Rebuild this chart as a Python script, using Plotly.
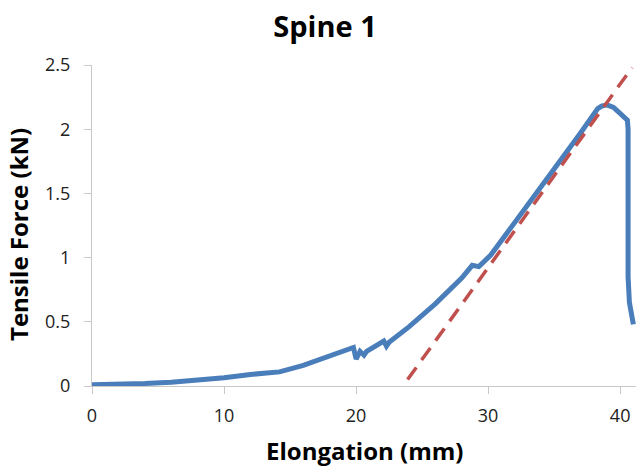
import plotly.graph_objects as go

# Measured curve (Elongation mm, Tensile Force kN)
elongation = [0, 2, 4, 6, 8, 10, 12, 13.9, 14.2, 16, 18, 19.8, 20.0, 20.3, 20.6, 20.8,
              22.1, 22.3, 22.5, 24, 26, 28, 28.8, 29.3, 30.2, 31, 33, 35, 37, 38.3,
              38.6, 39.0, 39.5, 40.2, 40.55, 40.6, 40.6, 40.7, 40.9, 41.0]
force = [0.01, 0.012, 0.02, 0.03, 0.045, 0.065, 0.09, 0.115, 0.11, 0.16, 0.23, 0.30, 0.21,
         0.27, 0.24, 0.27, 0.35, 0.31, 0.34, 0.46, 0.64, 0.84, 0.94, 0.93, 1.02, 1.13,
         1.40, 1.69, 1.97, 2.16, 2.18, 2.19, 2.17, 2.11, 2.07, 2.0, 0.85, 0.65, 0.55, 0.48]

# Linear (stiffness) fit line endpoints
fit_x = [23.9, 40.9]
fit_y = [0.05, 2.48]

x_ticks = [0, 10, 20, 30, 40]
y_ticks = [0, 0.5, 1, 1.5, 2, 2.5]
y_tick_labels = ["0", "0.5", "1", "1.5", "2", "2.5"]

fig = go.Figure()
fig.add_trace(go.Scatter(x=elongation, y=force, mode="lines",
                         line=dict(color="#4A7EBB", width=5), hoverinfo="skip"))
fig.add_trace(go.Scatter(x=fit_x, y=fit_y, mode="lines",
                         line=dict(color="#C0504D", width=3.5, dash="15px,9px"), hoverinfo="skip"))

W, H = 636, 468
pl, pr, pt, pb = 92, 636, 65, 386
font = "Open Sans, sans-serif"
fig.update_layout(
    width=W, height=H,
    margin=dict(l=pl, r=W - pr, t=pt, b=H - pb),
    paper_bgcolor="white", plot_bgcolor="white",
    showlegend=False,
    font=dict(family=font, color="#000000"),
    title=dict(text="<b>Spine 1</b>", x=325 / W, xanchor="center",
               y=1 - 27 / H, yanchor="middle", yref="container",
               font=dict(family=font, size=29, color="#000000")),
    xaxis=dict(range=[0, 41.2], tickvals=x_ticks, showgrid=False, zeroline=False,
               showline=True, linecolor="#C8C8C8", linewidth=1,
               ticks="outside", ticklen=7, tickcolor="#C8C8C8",
               tickfont=dict(family=font, size=18, color="#222222"),
               ticklabelstandoff=6),
    yaxis=dict(range=[0, 2.5], tickvals=y_ticks, ticktext=y_tick_labels, showgrid=False,
               zeroline=False, showline=True, linecolor="#C8C8C8", linewidth=1,
               ticks="outside", ticklen=7, tickcolor="#C8C8C8",
               tickfont=dict(family=font, size=18, color="#222222"),
               ticklabelstandoff=10),
    annotations=[
        dict(text="<b>Elongation (mm)</b>", xref="paper", yref="paper",
             x=(364 - pl) / (pr - pl), y=(pb - 450) / (pb - pt), xanchor="center",
             yanchor="middle", showarrow=False,
             font=dict(family=font, size=24, color="#000000")),
        dict(text="<b>Tensile Force (kN)</b>", xref="paper", yref="paper",
             x=(18 - pl) / (pr - pl), y=(pb - 235) / (pb - pt), xanchor="center",
             yanchor="middle", textangle=-90, showarrow=False,
             font=dict(family=font, size=24, color="#000000")),
    ],
)

# remove the default 8px page margin so the figure fills the window exactly
fig.write_html("out.html", config={"displayModeBar": False},
               post_script="document.body.style.margin='0';")
